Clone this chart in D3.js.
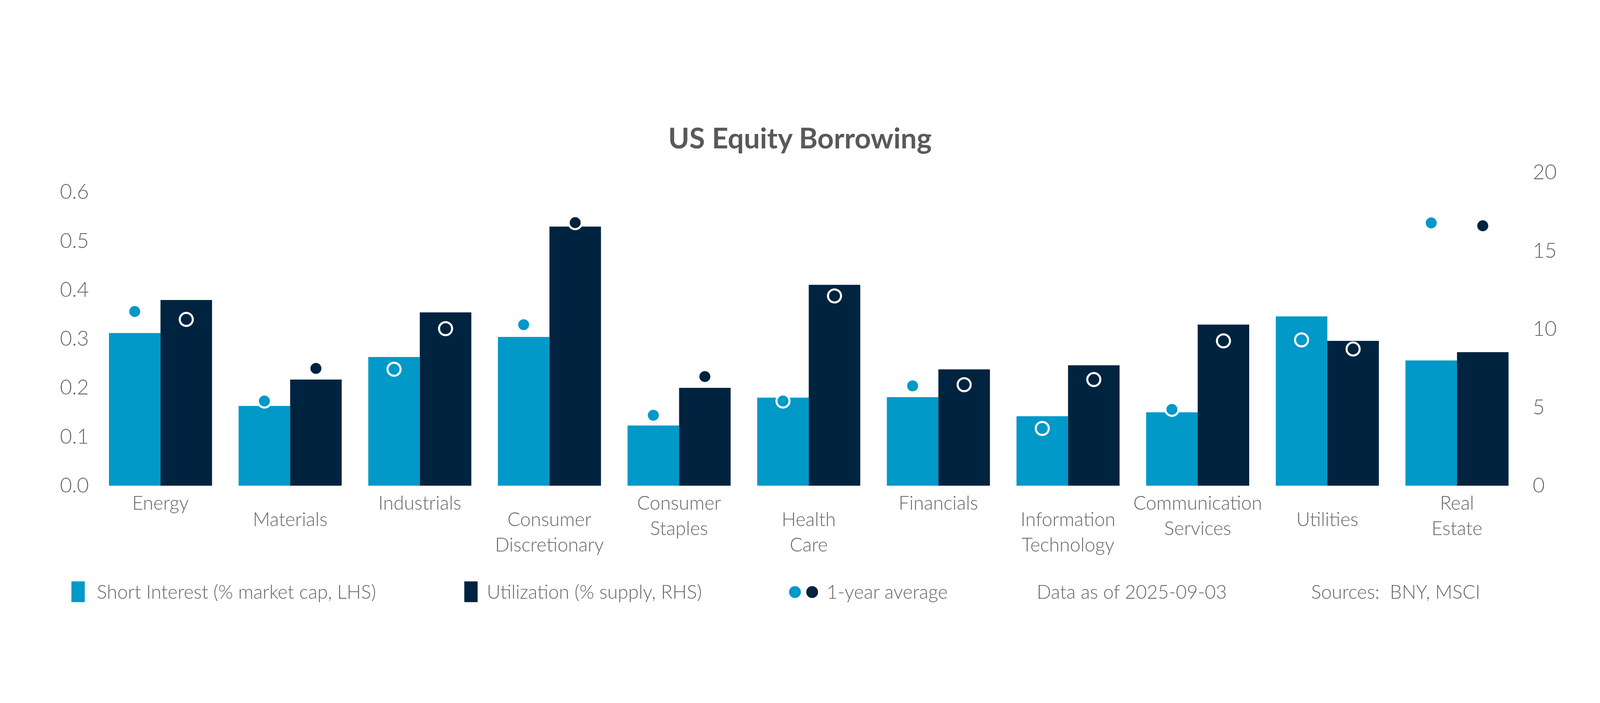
<!DOCTYPE html>
<html><head><meta charset="utf-8">
<script src="https://cdn.jsdelivr.net/npm/d3@7"></script>
<style>html,body{margin:0;padding:0;background:#fff;overflow:hidden}svg{display:block;width:100vw;height:100vh}text{font-family:Lato,"Open Sans",sans-serif}</style>
</head><body>
<svg id="c" viewBox="0 0 5400 1800" preserveAspectRatio="xMidYMid meet"></svg>
<script>
const categories = [["Energy"],["Materials"],["Industrials"],["Consumer","Discretionary"],["Consumer","Staples"],["Health","Care"],["Financials"],["Information","Technology"],["Communication","Services"],["Utilities"],["Real","Estate"]];
const shortInterest = [0.312,0.163,0.263,0.304,0.123,0.180,0.181,0.142,0.150,0.346,0.256];
const shortInterestAvg = [0.356,0.173,0.238,0.329,0.144,0.173,0.204,0.117,0.156,0.298,0.537];
const utilization = [11.86,6.78,11.07,16.55,6.25,12.83,7.43,7.69,10.29,9.25,8.53];
const utilizationAvg = [10.62,7.49,10.03,16.8,6.97,12.12,6.45,6.78,9.25,8.73,16.6];
const leftTicks = [0,0.1,0.2,0.3,0.4,0.5,0.6];
const rightTicks = [0,5,10,15,20];

const LIGHT="#0099c8", DARK="#00233f", GREY="#666666";
const svg=d3.select("#c");
const x=d3.scaleBand().domain(d3.range(categories.length)).range([324,5135]).paddingInner(0.205).paddingOuter(0.1);
const xs=d3.scaleBand().domain([0,1]).range([0,x.bandwidth()]);
const yL=d3.scaleLinear().domain([0,0.6]).range([1353,362]);
const yR=d3.scaleLinear().domain([0,20]).range([1353,296]);

svg.append("text").attr("x",2700).attr("y",215).attr("text-anchor","middle")
  .attr("font-size",96).attr("font-weight",700).attr("fill","#595959").text("US Equity Borrowing");

const gl=svg.append("g").attr("transform","translate(300,0)")
  .call(d3.axisLeft(yL).tickValues(leftTicks).tickFormat(d3.format(".1f")).tickSize(0).tickPadding(0));
const gr=svg.append("g").attr("transform","translate(5173,0)")
  .call(d3.axisRight(yR).tickValues(rightTicks).tickFormat(d3.format("d")).tickSize(0).tickPadding(0));
[gl,gr].forEach(g=>{g.select(".domain").remove();g.selectAll("text").attr("font-size",70).attr("fill",GREY).attr("font-family","Lato, sans-serif").attr("font-weight",300);});

const grp=svg.append("g").selectAll("g").data(categories).join("g").attr("transform",(d,i)=>`translate(${x(i)},0)`);
grp.append("rect").attr("x",xs(0)).attr("width",xs.bandwidth()).attr("y",(d,i)=>yL(shortInterest[i])).attr("height",(d,i)=>yL(0)-yL(shortInterest[i])).attr("fill",LIGHT);
grp.append("rect").attr("x",xs(1)).attr("width",xs.bandwidth()).attr("y",(d,i)=>yR(utilization[i])).attr("height",(d,i)=>yR(0)-yR(utilization[i])).attr("fill",DARK);
grp.append("circle").attr("cx",xs(0)+xs.bandwidth()/2).attr("cy",(d,i)=>yL(shortInterestAvg[i])).attr("r",22).attr("fill",LIGHT).attr("stroke","#fff").attr("stroke-width",7);
grp.append("circle").attr("cx",xs(1)+xs.bandwidth()/2).attr("cy",(d,i)=>yR(utilizationAvg[i])).attr("r",22).attr("fill",DARK).attr("stroke","#fff").attr("stroke-width",7);
grp.append("text").attr("text-anchor","middle").attr("font-size",64).attr("font-weight",300).attr("fill",GREY)
  .each(function(d,i){const t=d3.select(this);d.forEach((l,j)=>t.append("tspan").attr("x",x.bandwidth()/2).attr("y",(i%2?1467:1412)+j*86+22).text(l));});

const ly=1712, fs=64;
const leg=svg.append("g").attr("font-size",fs).attr("font-weight",300).attr("fill",GREY);
leg.append("rect").attr("x",241).attr("y",ly-36).attr("width",45).attr("height",70).attr("fill",LIGHT);
leg.append("text").attr("x",327).attr("y",ly+22).text("Short Interest (% market cap, LHS)");
leg.append("rect").attr("x",1567).attr("y",ly-36).attr("width",45).attr("height",70).attr("fill",DARK);
leg.append("text").attr("x",1643).attr("y",ly+22).text("Utilization (% supply, RHS)");
leg.append("circle").attr("cx",2683).attr("cy",ly).attr("r",20).attr("fill",LIGHT);
leg.append("circle").attr("cx",2741).attr("cy",ly).attr("r",20).attr("fill",DARK);
leg.append("text").attr("x",2790).attr("y",ly+22).text("1-year average");
leg.append("text").attr("x",3499).attr("y",ly+22).text("Data as of 2025-09-03");
leg.append("text").attr("x",4425).attr("y",ly+22).attr("xml:space","preserve").text("Sources:  BNY, MSCI");
</script></body></html>
